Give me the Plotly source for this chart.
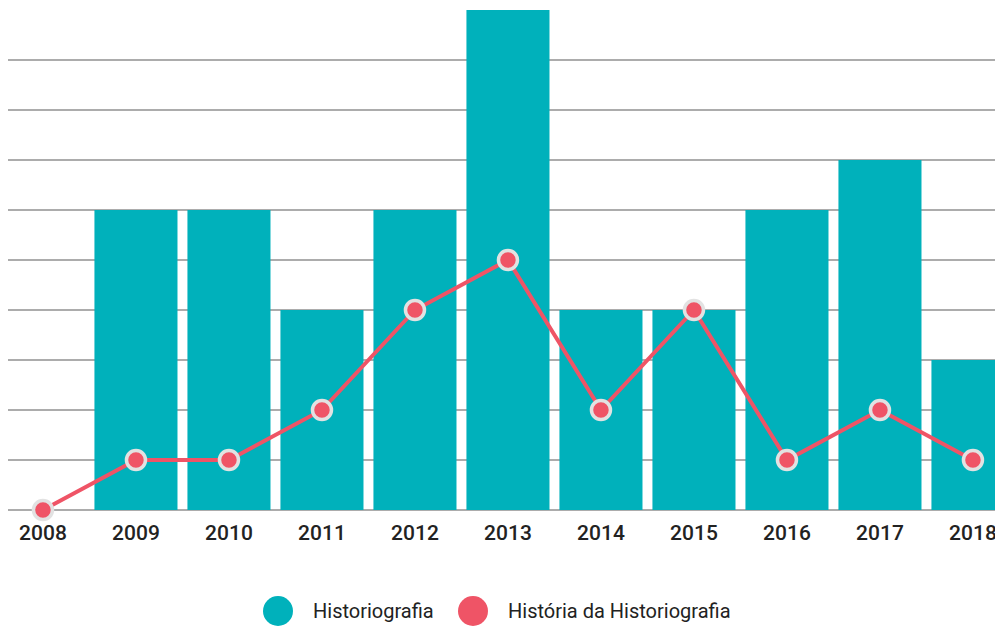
import plotly.graph_objects as go

anos = ["2008", "2009", "2010", "2011", "2012", "2013", "2014", "2015", "2016", "2017", "2018"]
historiografia = [0, 6, 6, 4, 6, 10, 4, 4, 6, 7, 3]
historia_da_historiografia = [0, 1, 1, 2, 4, 5, 2, 4, 1, 2, 1]

COR_BARRA = "#00b1bb"
COR_LINHA = "#ef5466"
FONTE = dict(family="Roboto", size=21, color="#222222", weight=500)
FONTE_LEGENDA = dict(family="Roboto", size=20, color="#222222", weight=400)

fig = go.Figure()
fig.add_trace(go.Bar(x=anos, y=historiografia, name="Historiografia",
                     marker=dict(color=COR_BARRA, line=dict(width=0)),
                     showlegend=False))
fig.add_trace(go.Scatter(x=anos, y=historia_da_historiografia, name="História da Historiografia",
                         mode="lines+markers",
                         line=dict(color=COR_LINHA, width=4),
                         marker=dict(color=COR_LINHA, size=19, line=dict(color="#e2e2e2", width=3.5)),
                         showlegend=False, cliponaxis=False))

# a página tem margem de 8px no body, por isso a figura é um pouco menor
fig.update_layout(
    width=995, height=618,
    margin=dict(l=0, r=0, t=2, b=116),
    paper_bgcolor="white", plot_bgcolor="white",
    bargap=0.107,
    font=FONTE,
    xaxis=dict(type="category", range=[-0.376, 10.323], showgrid=False,
               showline=False, ticks="", tickfont=FONTE, ticklabelstandoff=8),
    yaxis=dict(range=[0, 10], dtick=1, showticklabels=False,
               showgrid=True, gridcolor="#acacac", gridwidth=2,
               zeroline=True, zerolinecolor="#acacac", zerolinewidth=2),
)

# legenda desenhada à mão (círculos grandes)
itens = [("Historiografia", COR_BARRA, 278), ("História da Historiografia", COR_LINHA, 473)]
for texto, cor, px_x in itens:
    xp = (px_x - 8) / 995
    fig.add_shape(type="circle", xref="paper", yref="paper",
                  xsizemode="pixel", ysizemode="pixel",
                  xanchor=xp, yanchor=-0.202,
                  x0=-15, x1=15, y0=-15, y1=15,
                  fillcolor=cor, line=dict(width=0))
    fig.add_annotation(x=xp + 35 / 995, y=-0.202, xref="paper", yref="paper",
                       text=texto, showarrow=False, xanchor="left", yanchor="middle",
                       xshift=-2, font=FONTE_LEGENDA)

fig.write_html("out.html")
